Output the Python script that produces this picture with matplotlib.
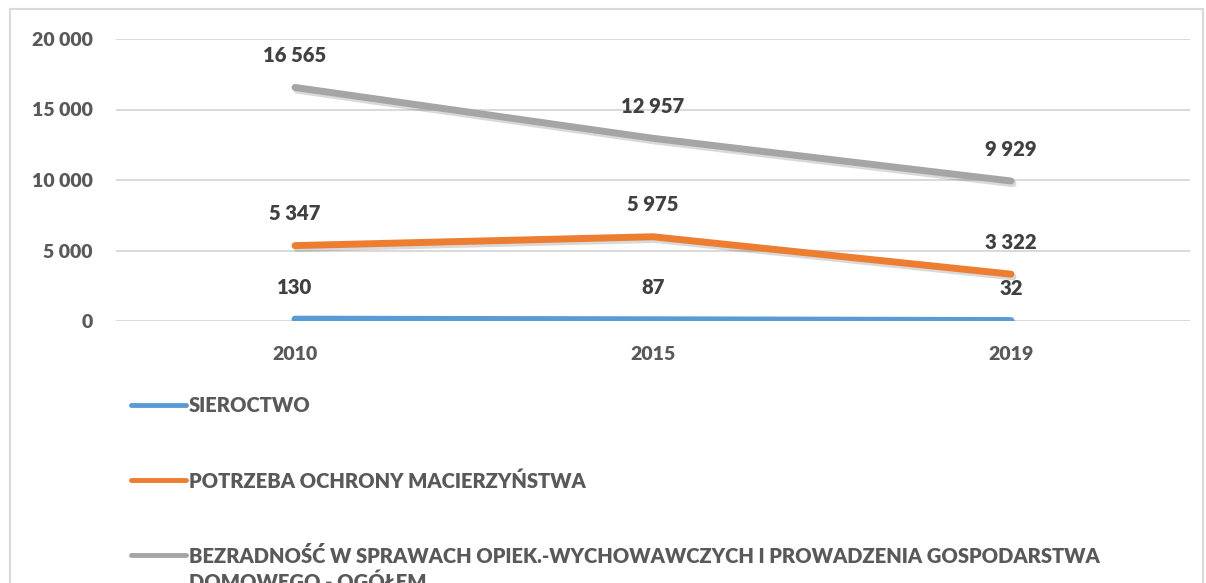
import matplotlib
matplotlib.use("Agg")
import matplotlib.pyplot as plt
from matplotlib.lines import Line2D
from matplotlib.patches import Rectangle
import matplotlib.patheffects as pe

# dane
lata = ["2010", "2015", "2019"]
sieroctwo = [130, 87, 32]
macierzynstwo = [5347, 5975, 3322]
bezradnosc = [16565, 12957, 9929]
nazwy = ["SIEROCTWO",
         "POTRZEBA OCHRONY MACIERZYŃSTWA",
         "BEZRADNOŚĆ W SPRAWACH OPIEK.-WYCHOWAWCZYCH I PROWADZENIA GOSPODARSTWA\nDOMOWEGO - OGÓŁEM"]
kolory = ["#5B9BD5", "#ED7D31", "#A5A5A5"]
yticks = [0, 5000, 10000, 15000, 20000]

plt.rcParams['font.family'] = ['Lato', 'DejaVu Sans']
tekst = "#595959"
waga = 800

fig = plt.figure(figsize=(12.06, 5.83), dpi=100)
W, H = 1206, 583

# ramka wykresu
fig.add_artist(Rectangle((10 / W, -0.1), 1193 / W, 1 - 9 / H + 0.1, transform=fig.transFigure,
                         fill=False, edgecolor="#D9D9D9", lw=1.5))

ax = fig.add_axes([116 / W, 1 - 321 / H, 1074 / W, 282 / H])
ax.set_xlim(-0.5, 2.5)
ax.set_ylim(0, 20000)
for s in ax.spines.values():
    s.set_visible(False)
ax.set_yticks(yticks)
ax.set_yticklabels([f"{v:,}".replace(",", " ") for v in yticks])
ax.set_xticks(range(len(lata)))
ax.set_xticklabels(lata)
ax.tick_params(length=0, labelsize=14, labelcolor=tekst)
ax.tick_params(axis='y', pad=17)
ax.tick_params(axis='x', pad=18)
for lab in ax.get_xticklabels() + ax.get_yticklabels():
    lab.set_fontweight(waga)
ax.grid(axis='y', color="#D9D9D9", lw=1.4)
ax.set_axisbelow(True)

serie = [sieroctwo, macierzynstwo, bezradnosc]
cien = [pe.SimpleLineShadow(offset=(1.5, -2), alpha=0.15, shadow_color='black'), pe.Normal()]
for dane, kol in zip(serie, kolory):
    x = list(range(len(dane)))
    ax.plot(x, dane, color=kol, lw=5, solid_capstyle='round', solid_joinstyle='round',
            path_effects=cien, zorder=3)
    for xi, v in zip(x, dane):
        ax.annotate(f"{v:,}".replace(",", " "), (xi, v), xytext=(0, 23), textcoords='offset points',
                    ha='center', va='center', fontsize=14.6, fontweight=waga, color="#404040")

# legenda
ys = [405, 480, 555]
for y, kol, nazwa in zip(ys, kolory, nazwy):
    fig.add_artist(Line2D([131 / W, 186 / W], [1 - y / H, 1 - y / H], transform=fig.transFigure,
                          color=kol, lw=3.5, solid_capstyle='round'))
    fig.text(189 / W, 1 - (y - 9) / H, nazwa, ha='left', va='top',
             fontsize=14.5, fontweight=waga, color=tekst, linespacing=1.4)

fig.savefig("out.png", dpi=100)
